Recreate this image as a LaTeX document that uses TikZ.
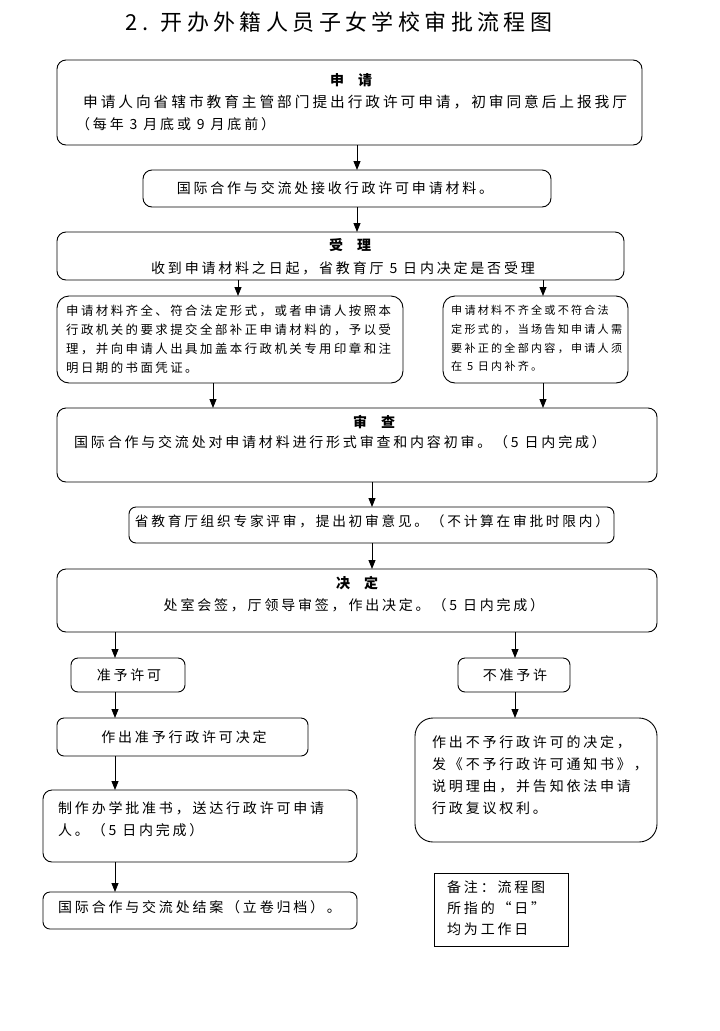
\documentclass[tikz,border=0pt]{standalone}
\usepackage{fontspec}
\setmainfont{Noto Sans CJK SC}[LetterSpace=20]
\usetikzlibrary{arrows.meta}
\begin{document}
\begin{tikzpicture}[x=1pt,y=-1pt,
  box/.style={draw, line width=0.9pt, rounded corners=9pt, inner sep=0pt, outer sep=0pt, anchor=north west},
  sq/.style={draw, line width=0.9pt, inner sep=0pt, outer sep=0pt, anchor=north west},
  txt/.style={inner sep=0pt, font=\fontsize{14}{20}\selectfont},
  sm/.style={inner sep=0pt, font=\fontsize{12.4}{18}\selectfont},
  xs/.style={inner sep=0pt, font=\fontsize{11.1}{16}\selectfont},
  hd/.style={inner sep=0pt, font=\fontsize{14}{20}\selectfont\bfseries},
  arr/.style={line width=0.9pt, -{Triangle[length=9pt,width=7pt]}}]
\useasboundingbox (0,0) rectangle (720,1031);
\fill[white] (0,0) rectangle (720,1031);

\node[inner sep=0pt, font=\fontsize{22}{26}\selectfont, anchor=base] (title) at (339,30.5) {2. 开办外籍人员子女学校审批流程图};

% Box 1
\node[box, minimum width=585pt, minimum height=85pt] (b1) at (57,60) {};
\node[hd, anchor=base] (h1) at (351,85.3) {申\quad 请};
\node[txt, font=\fontsize{14.7}{20}\selectfont, anchor=base west] (l1a) at (83,107.5) {申请人向省辖市教育主管部门提出行政许可申请，初审同意后上报我厅};
\node[txt, anchor=base west] (l1b) at (76,129.3) {（每年 3 月底或 9 月底前）};

% Box 2
\node[box, minimum width=408pt, minimum height=37pt] (b2) at (143,170) {};
\node[txt, anchor=base] (l2) at (335,193.3) {国际合作与交流处接收行政许可申请材料。};

% Box 3
\node[box, minimum width=567pt, minimum height=48pt] (b3) at (57,232) {};
\node[hd, anchor=base] (h3) at (350,250.3) {受\quad 理};
\node[txt, anchor=base] (l3) at (343,273.3) {收到申请材料之日起，省教育厅 5 日内决定是否受理};

% Box 4 left
\node[box, rounded corners=12pt, minimum width=346pt, minimum height=87pt] (b4l) at (57,296) {};
\node[sm, anchor=base west] (l4a) at (66,315.7) {申请材料齐全、符合法定形式，或者申请人按照本};
\node[sm, anchor=base west] (l4b) at (66,334.7) {行政机关的要求提交全部补正申请材料的，予以受};
\node[sm, anchor=base west] (l4c) at (66,353.7) {理，并向申请人出具加盖本行政机关专用印章和注};
\node[sm, anchor=base west] (l4d) at (66,372.7) {明日期的书面凭证。};

% Box 4 right
\node[box, rounded corners=12pt, minimum width=185pt, minimum height=87pt] (b4r) at (443,296) {};
\node[xs, anchor=base west] (r4a) at (451,314.4) {申请材料不齐全或不符合法};
\node[xs, anchor=base west] (r4b) at (451,333.4) {定形式的，当场告知申请人需};
\node[xs, anchor=base west] (r4c) at (451,352.4) {要补正的全部内容，申请人须};
\node[xs, anchor=base west] (r4d) at (451,370.4) {在 5 日内补齐。};

% Box 5
\node[box, minimum width=600pt, minimum height=74pt] (b5) at (57,408) {};
\node[hd, anchor=base] (h5) at (374,427.3) {审\quad 查};
\node[txt, anchor=base west] (l5) at (74,447.3) {国际合作与交流处对申请材料进行形式审查和内容初审。（5 日内完成）};

% Box 6
\node[box, rounded corners=7pt, minimum width=485pt, minimum height=36pt] (b6) at (129,507) {};
\node[txt, font=\fontsize{13.7}{20}\selectfont, anchor=base] (l6) at (372,526.2) {省教育厅组织专家评审，提出初审意见。（不计算在审批时限内）};

% Box 7
\node[box, minimum width=600pt, minimum height=63pt] (b7) at (57,569) {};
\node[hd, anchor=base] (h7) at (357,588.3) {决\quad 定};
\node[txt, anchor=base] (l7) at (354,610.3) {处室会签，厅领导审签，作出决定。（5 日内完成）};

% Yes / No
\node[box, rounded corners=7pt, minimum width=114pt, minimum height=34pt] (yes) at (71,658) {};
\node[txt, anchor=base] (lyes) at (129,680.3) {准予许可};
\node[box, rounded corners=7pt, minimum width=112pt, minimum height=34pt] (no) at (458,658) {};
\node[txt, anchor=base] (lno) at (515,680.3) {不准予许};

% Yes chain
\node[box, rounded corners=7pt, minimum width=251pt, minimum height=38pt] (y1) at (57,718) {};
\node[txt, anchor=base] (ly1) at (184,742.3) {作出准予行政许可决定};
\node[box, rounded corners=9pt, minimum width=314pt, minimum height=72pt] (y2) at (43,790) {};
\node[txt, anchor=base west] (ly2a) at (58,813.3) {制作办学批准书，送达行政许可申请};
\node[txt, anchor=base west] (ly2b) at (58,835.3) {人。（5 日内完成）};
\node[box, rounded corners=7pt, minimum width=314pt, minimum height=37pt] (y3) at (43,892) {};
\node[txt, anchor=base west] (ly3) at (58,912.3) {国际合作与交流处结案（立卷归档）。};

% No chain
\node[box, rounded corners=18pt, minimum width=242pt, minimum height=124pt] (n1) at (415,718) {};
\node[txt, anchor=base west] (ln1a) at (432,747.3) {作出不予行政许可的决定，};
\node[txt, anchor=base west] (ln1b) at (432,769.3) {发《不予行政许可通知书》，};
\node[txt, anchor=base west] (ln1c) at (432,791.3) {说明理由，并告知依法申请};
\node[txt, anchor=base west] (ln1d) at (432,813.3) {行政复议权利。};

% Note
\node[sq, minimum width=134pt, minimum height=73pt] (note) at (434,873) {};
\node[txt, anchor=base west] (lna) at (447,892.3) {备注：流程图};
\node[txt, anchor=base west] (lnb) at (447,913.3) {所指的“日”};
\node[txt, anchor=base west] (lnc) at (447,934.3) {均为工作日};

% Arrows
\draw[arr] (357,0 |- b1.south) -- (357,0 |- b2.north);
\draw[arr] (357,0 |- b2.south) -- (357,0 |- b3.north);
\draw[arr] (238,0 |- b3.south) -- (238,0 |- b4l.north);
\draw[arr] (543,0 |- b3.south) -- (543,0 |- b4r.north);
\draw[arr] (213,0 |- b4l.south) -- (213,0 |- b5.north);
\draw[arr] (543,0 |- b4r.south) -- (543,0 |- b5.north);
\draw[arr] (372,0 |- b5.south) -- (372,0 |- b6.north);
\draw[arr] (372,0 |- b6.south) -- (372,0 |- b7.north);
\draw[arr] (115,0 |- b7.south) -- (115,0 |- yes.north);
\draw[arr] (515,0 |- b7.south) -- (515,0 |- no.north);
\draw[arr] (115,0 |- yes.south) -- (115,0 |- y1.north);
\draw[arr] (515,0 |- no.south) -- (515,0 |- n1.north);
\draw[arr] (115,0 |- y1.south) -- (115,0 |- y2.north);
\draw[arr] (115,0 |- y2.south) -- (115,0 |- y3.north);
\end{tikzpicture}
\end{document}
